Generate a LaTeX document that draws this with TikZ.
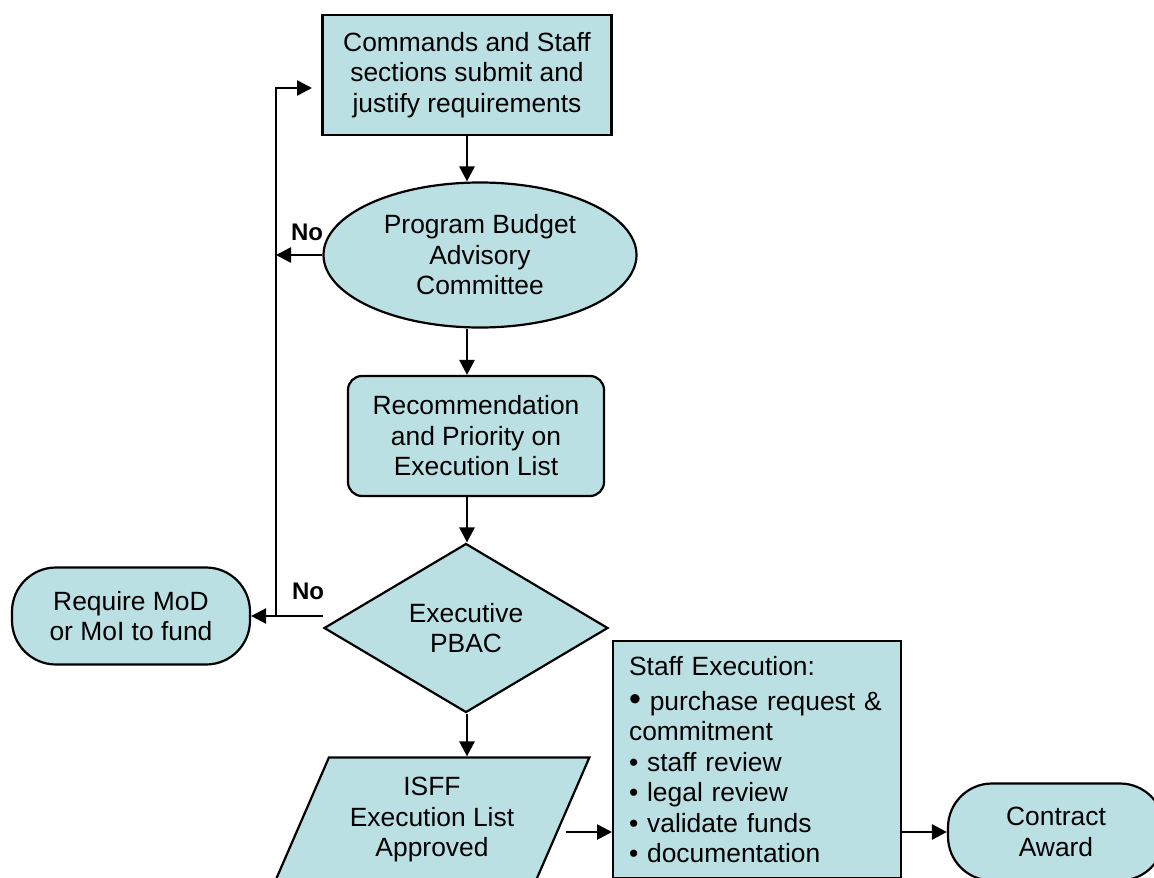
\documentclass[tikz,border=0pt]{standalone}
\usepackage{fontspec}
\setmainfont{Liberation Sans}
\usetikzlibrary{shapes.geometric,arrows.meta}
\definecolor{boxfill}{RGB}{187,224,227}
\tikzset{
  base/.style={draw, fill=boxfill, line width=2.2pt, align=center, inner sep=0pt},
  procbox/.style={base, rectangle},
  roundbox/.style={base, rectangle, rounded corners=14pt},
  termbox/.style={base, rectangle, rounded corners=44pt},
  decide/.style={base, diamond, aspect=1.68},
  oval/.style={base, ellipse},
  iobox/.style={base, trapezium, trapezium left angle=63, trapezium right angle=117, trapezium stretches=true},
  lbl/.style={font=\fontsize{24}{28}\selectfont\bfseries},
}
\begin{document}
\begin{tikzpicture}[x=1pt, y=-1pt, font=\fontsize{26.4}{30.5}\selectfont, line join=miter, >={Triangle[length=15pt,width=15pt]}]
\useasboundingbox (0,0) rectangle (1154,878);
\clip (0,0) rectangle (1154,878);
% boxes
\node[procbox, minimum width=289, minimum height=120] (req) at (467,75) {Commands and Staff\\sections submit and\\justify requirements};
\node[oval, minimum width=313, minimum height=145] (pbac) at (480,255) {Program Budget\\Advisory\\Committee};
\node[roundbox, minimum width=256, minimum height=120] (rec) at (476,436) {Recommendation\\and Priority on\\Execution List};
\node[decide, minimum width=284, minimum height=169] (exec) at (466,628) {Executive\\PBAC};
\node[termbox, minimum width=238, minimum height=97] (mod) at (131,616) {Require MoD\\or MoI to fund};
\node[iobox, minimum width=315, minimum height=125] (isff) at (432,820) {ISFF\\Execution List\\Approved};
\node[procbox, anchor=north west, minimum width=288, minimum height=237, text width=256, align=left] (staff) at (612,640)
  {Staff Execution:\\[4pt]
   {\fontsize{34}{30}\selectfont\textbullet} purchase request \&\\
   commitment\\
   \textbullet{} staff review\\
   \textbullet{} legal review\\
   \textbullet{} validate funds\\
   \textbullet{} documentation};
\node[termbox, minimum width=216, minimum height=97] (award) at (1056,832) {Contract\\Award};
% labels
\node[lbl] (no1) at (307,232) {No};
\node[lbl] (no2) at (308,591) {No};
% connectors
\coordinate (bus) at (276,617);
\coordinate (ret) at (312,88);
\begin{scope}[line width=2.6pt]
\draw[->] (req.south) -- (req.south |- pbac.north);
\draw[->] (pbac.south -| req.south) -- (req.south |- rec.north);
\draw[->] (rec.south -| req.south) -- (req.south |- exec.north);
\draw[->] (exec.south -| req.south) -- (req.south |- isff.north);
\draw[->] (pbac.west) -- (bus |- pbac.west);
\draw[->] (exec.west |- mod.east) -- (mod.east);
\draw[->] (bus) |- (ret);
\draw[->] ([xshift=3pt]isff.east |- award.west) -- (staff.west |- award.west);
\draw[->] (staff.east |- award.west) -- (award.west);
\end{scope}
\end{tikzpicture}
\end{document}
